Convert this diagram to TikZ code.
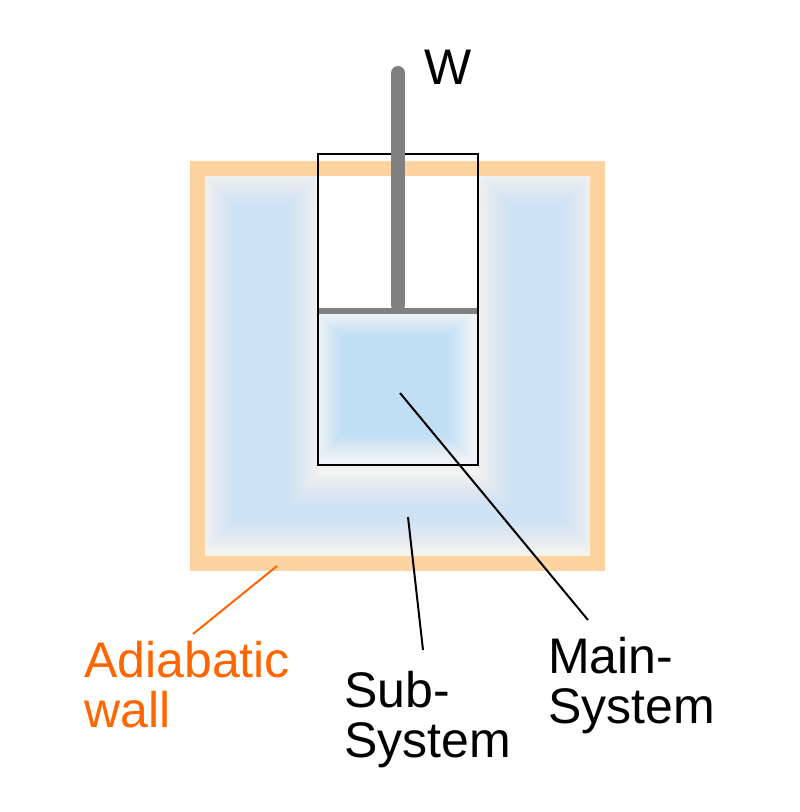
\documentclass[tikz,border=0pt]{standalone}
\usepackage{fontspec}
\setmainfont{Liberation Sans}
\begin{document}
\begin{tikzpicture}[x=1pt,y=-1pt]
\definecolor{wallc}{RGB}{253,211,160}
\definecolor{bgc}{RGB}{243,243,241}
\definecolor{mainbg}{RGB}{240,244,248}
\definecolor{subc}{RGB}{206,227,245}
\definecolor{mainc}{RGB}{192,223,244}
\definecolor{rodc}{RGB}{128,128,128}
\definecolor{wallt}{RGB}{255,102,0}
\tikzset{
  lbl/.style={font=\fontsize{50}{49.5}\selectfont, align=left, anchor=base west, inner sep=0pt},
  pointer/.style={line width=2pt, black},
  wallptr/.style={line width=2pt, wallt},
}
\useasboundingbox (0,0) rectangle (800,812);
\fill[white] (0,0) rectangle (800,812);
% inner area
\fill[bgc] (205,176) rectangle (590,556);
\begin{scope}
  \clip (205,176) rectangle (590,556);
  \foreach \k in {1,...,12}{
    \pgfmathsetmacro\d{-15+30*(\k-1)/11}
    \pgfmathsetmacro\op{1/(13-\k)}
    \fill[subc,opacity=\op,even odd rule]
      (219+\d,190+\d) rectangle (578-\d,535-\d)
      (303-\d,190+\d) rectangle (495+\d,490+\d);
  }
\end{scope}
% cylinder interior
\fill[white] (317.5,154) rectangle (477.5,311);
\fill[mainbg] (317.5,311) rectangle (477.5,464.5);
\begin{scope}
  \clip (317.5,311) rectangle (477.5,464.5);
  \foreach \k in {1,...,12}{
    \pgfmathsetmacro\d{-12+24*(\k-1)/11}
    \pgfmathsetmacro\op{1/(13-\k)}
    \fill[mainc,opacity=\op] (330+\d,325+\d) rectangle (460-\d,447-\d);
  }
\end{scope}
% adiabatic wall
\draw[wallc, line width=15pt] (197.5,168.5) rectangle (597.5,563.5);
% cylinder
\draw[black, line width=2pt] (317.5,154) rectangle (477.5,464.5);
% piston and rod
\draw[rodc, line width=14pt, line cap=round] (398,73) -- (398,305);
\draw[rodc, line width=5.5pt] (318.5,311) -- (476.5,311);
% labels
\node[lbl] (w) at (424,84) {W};
\node[lbl, text=wallt] (adia) at (84,727) {Adiabatic\\wall};
\node[lbl] (sub) at (344,757) {Sub-\\System};
\node[lbl] (main) at (548,723) {Main-\\System};
% pointers
\coordinate (mainpt) at (400,393);
\coordinate (mainend) at (588,620);
\coordinate (subpt) at (408,517);
\coordinate (subend) at (423,650);
\coordinate (wallpt) at (277,566);
\coordinate (wallend) at (193,634);
\draw[pointer] (mainpt) -- (mainend);
\draw[pointer] (subpt) -- (subend);
\draw[wallptr] (wallpt) -- (wallend);
\end{tikzpicture}
\end{document}
